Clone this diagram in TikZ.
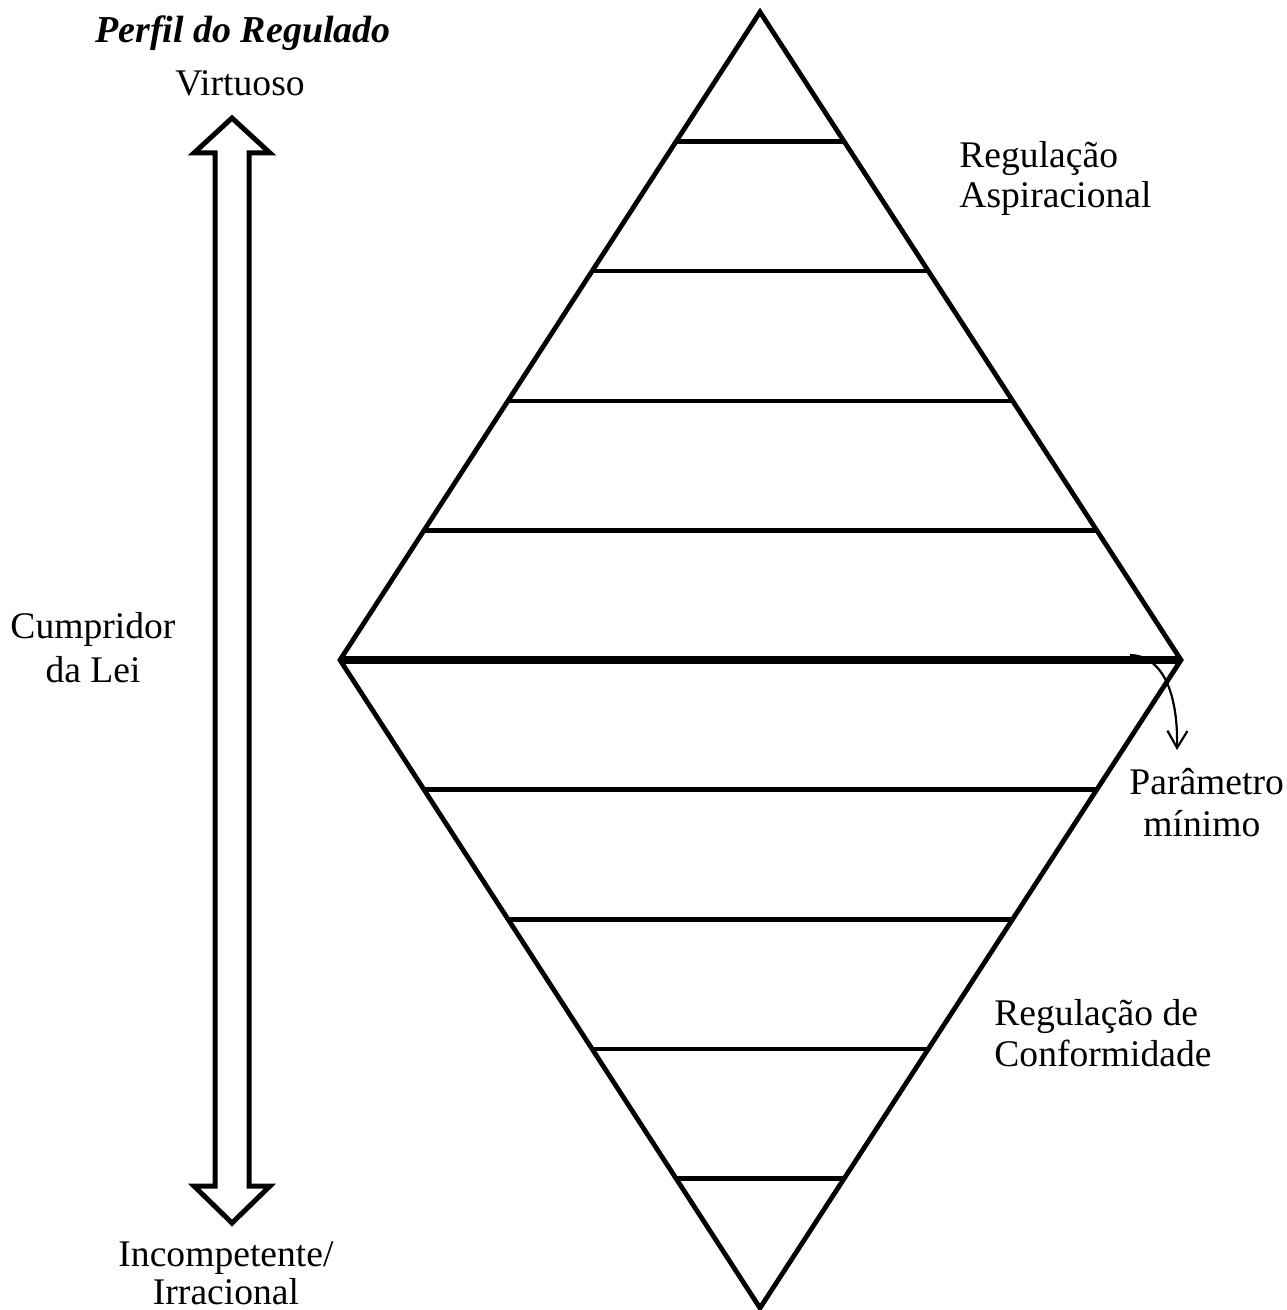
\documentclass[tikz,border=0pt]{standalone}
\usepackage{fontspec}
\setmainfont{Liberation Serif}
\usetikzlibrary{arrows.meta,calc}
\begin{document}
\begin{tikzpicture}[x=0.5pt,y=-0.5pt,
  edge/.style={line width=2.4pt},
  band/.style={line width=2.3pt},
  midband/.style={line width=3.6pt},
  bigarrow/.style={line width=2.5pt,line join=miter},
  lbl/.style={inner sep=0pt,font=\fontsize{18.8}{22}\selectfont},
  note/.style={line width=1.1pt,-{Straight Barb[length=8.5pt,width=10pt,line width=1.1pt]}}]
\useasboundingbox (0,0) rectangle (1286,1310);
% diamond
\coordinate (T) at (760,12);
\coordinate (L) at (340,660);
\coordinate (R) at (1181,660);
\coordinate (B) at (760,1308);
\draw[edge] (L) -- (T) -- (R) -- (B) -- cycle;
\draw[midband] (L) -- (R);
\foreach \t in {0.2,0.4,0.6,0.8}{
  \draw[band] ($(L)!\t!(T)$) -- ($(R)!\t!(T)$);
  \draw[band] ($(L)!\t!(B)$) -- ($(R)!\t!(B)$);
}
% double arrow
\coordinate (AT) at (232,118);
\coordinate (AB) at (232,1223);
\draw[bigarrow] (AT) -- (270,153) -- (249,153) -- (249,1186) -- (270,1186) -- (AB)
  -- (194,1186) -- (215,1186) -- (215,153) -- (194,153) -- cycle;
% labels
\node[lbl,anchor=base,font=\fontsize{19}{22}\selectfont\bfseries\itshape] (perfil) at (243,43) {Perfil do Regulado};
\node[lbl,anchor=base] (virt) at (240,96) {Virtuoso};
\node[lbl,anchor=base] (cump1) at (93,638) {Cumpridor};
\node[lbl,anchor=base] (cump2) at (93,682) {da Lei};
\node[lbl,anchor=base] (inc1) at (226,1266) {Incompetente/};
\node[lbl,anchor=base] (inc2) at (226,1304) {Irracional};
\node[lbl,anchor=base west] (asp1) at (959,168) {Regulação};
\node[lbl,anchor=base west] (asp2) at (959,208) {Aspiracional};
\node[lbl,anchor=base west] (par1) at (1129,794) {Parâmetro};
\node[lbl,anchor=base west] (par2) at (1143,836) {mínimo};
\node[lbl,anchor=base west] (conf1) at (994,1025) {Regulação de};
\node[lbl,anchor=base west] (conf2) at (994,1066) {Conformidade};
% pointer
\coordinate (ps) at (1130,655);
\coordinate (pe) at (1177,750);
\draw[note] (ps) .. controls (1166,656) and (1178,700) .. (pe);
\end{tikzpicture}
\end{document}
